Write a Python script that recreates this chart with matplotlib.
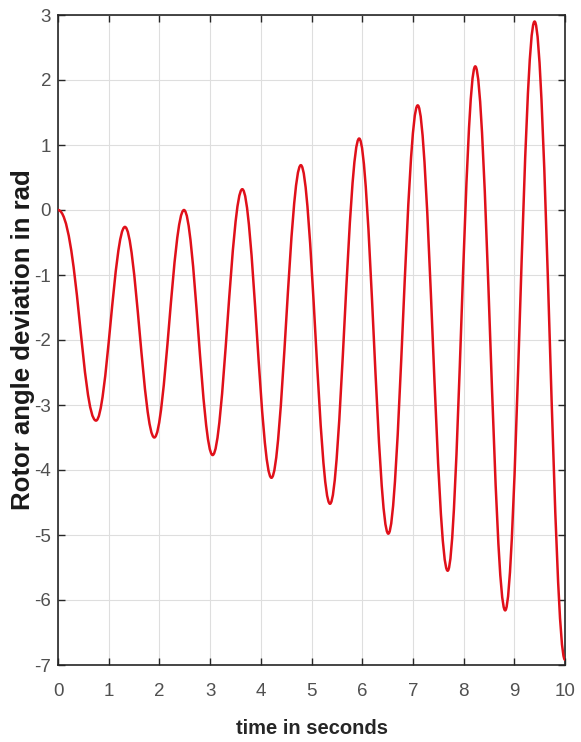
import matplotlib
matplotlib.use("Agg")
import matplotlib.pyplot as plt
from matplotlib.path import Path
from matplotlib.patches import PathPatch

# Extrema of the rotor angle curve (time in s, value in rad)
ext_time = [0.0, 0.75, 1.32, 1.90, 2.485, 3.05, 3.635, 4.21, 4.79, 5.365,
            5.94, 6.515, 7.095, 7.686, 8.23, 8.82, 9.40, 10.0]
ext_value = [0.0, -3.24, -0.26, -3.50, 0.00, -3.77, 0.32, -4.12, 0.69, -4.52,
             1.10, -4.98, 1.61, -5.55, 2.21, -6.16, 2.90, -6.92]

x_ticks = list(range(0, 11))
y_ticks = list(range(-7, 4))
x_label = "time in seconds"
y_label = "Rotor angle deviation in rad"

plt.rcParams["axes.unicode_minus"] = False
plt.rcParams["font.family"] = ["Liberation Sans", "DejaVu Sans"]

W, H = 581, 742
fig = plt.figure(figsize=(W / 100, H / 100), dpi=100)
ax = fig.add_axes([58 / W, (H - 665) / H, (565 - 58) / W, (665 - 15) / H])

# Smooth curve through the extrema: cubic Bezier with flat tangents at each extremum
verts = [(ext_time[0], ext_value[0])]
codes = [Path.MOVETO]
for i in range(len(ext_time) - 1):
    t0, v0 = ext_time[i], ext_value[i]
    t1, v1 = ext_time[i + 1], ext_value[i + 1]
    dt = t1 - t0
    k0 = 0.5 if i == 0 else 0.36
    verts += [(t0 + k0 * dt, v0), (t1 - 0.36 * dt, v1), (t1, v1)]
    codes += [Path.CURVE4] * 3
curve = PathPatch(Path(verts, codes), fill=False, edgecolor="#e0101a",
                  linewidth=1.8, joinstyle="round", capstyle="round", zorder=3)
ax.add_patch(curve)

ax.set_xlim(0, 10)
ax.set_ylim(-7, 3)
ax.set_xticks(x_ticks)
ax.set_yticks(y_ticks)
ax.grid(True, color="#dedede", linewidth=0.8)
ax.set_axisbelow(True)

ax.tick_params(direction="in", length=5, width=1.0, color="#262626",
               top=True, right=True, labelcolor="#505050", labelsize=13.5)
ax.tick_params(axis="x", pad=13)
ax.tick_params(axis="y", pad=5)
for s in ax.spines.values():
    s.set_color("#262626")
    s.set_linewidth(1.2)

ax.set_xlabel(x_label, fontweight="bold", fontsize=14.5, color="#262626",
              labelpad=14)
ax.set_ylabel(y_label, fontweight="bold", fontsize=18.5, color="#1a1a1a")
ax.yaxis.set_label_coords(-0.046, 0.5)

fig.savefig("out.png", dpi=100)
